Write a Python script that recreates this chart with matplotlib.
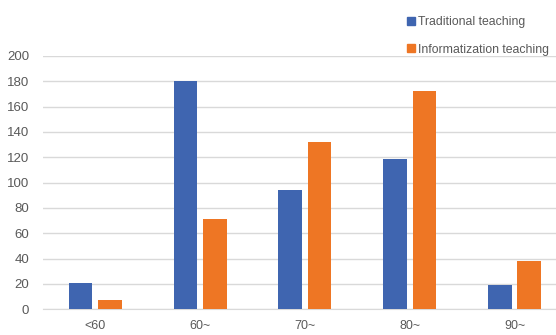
import matplotlib
matplotlib.use("Agg")
import matplotlib.pyplot as plt
from matplotlib.lines import Line2D
import numpy as np

categories = ["<60", "60~", "70~", "80~", "90~"]
traditional = [21, 180, 94, 119, 19]
informatization = [7, 71, 132, 172, 38]
series_names = ["Traditional teaching", "Informatization teaching"]
yticks = [0, 20, 40, 60, 80, 100, 120, 140, 160, 180, 200]

blue = "#3F65B0"
orange = "#EE7624"
txt = "#595959"

plt.rcParams['font.family'] = ['Liberation Sans', 'DejaVu Sans']

fig = plt.figure(figsize=(5.56, 3.35), dpi=100)
ax = fig.add_axes([0.0773, 0.0767, 0.9227, 0.7563])

x = np.arange(len(categories))
w = 0.225
off = 0.14
ax.bar(x - off, traditional, w, color=blue, zorder=3)
ax.bar(x + off, informatization, w, color=orange, zorder=3)

ax.set_xlim(-0.5, 4.396)
ax.set_ylim(0, 200)
ax.set_yticks(yticks)
ax.set_xticks(x)
ax.set_xticklabels(categories)
ax.grid(axis='y', color='#d9d9d9', linewidth=1, zorder=0)
for s in ['top', 'right', 'left']:
    ax.spines[s].set_visible(False)
ax.spines['bottom'].set_color('#d9d9d9')
ax.tick_params(axis='both', length=0, colors=txt, labelsize=9.5)
ax.tick_params(axis='x', pad=8, labelsize=9)
ax.tick_params(axis='y', pad=10)

handles = [Line2D([], [], marker='s', linestyle='none', markersize=5.5, color=blue),
           Line2D([], [], marker='s', linestyle='none', markersize=5.5, color=orange)]
fig.legend(handles, series_names, loc='upper left', bbox_to_anchor=(0.715, 0.98),
           frameon=False, fontsize=8.8, labelcolor=txt, handlelength=0.6,
           handletextpad=0.3, labelspacing=1.25, borderaxespad=0.4)

fig.savefig("out.png", dpi=100)
